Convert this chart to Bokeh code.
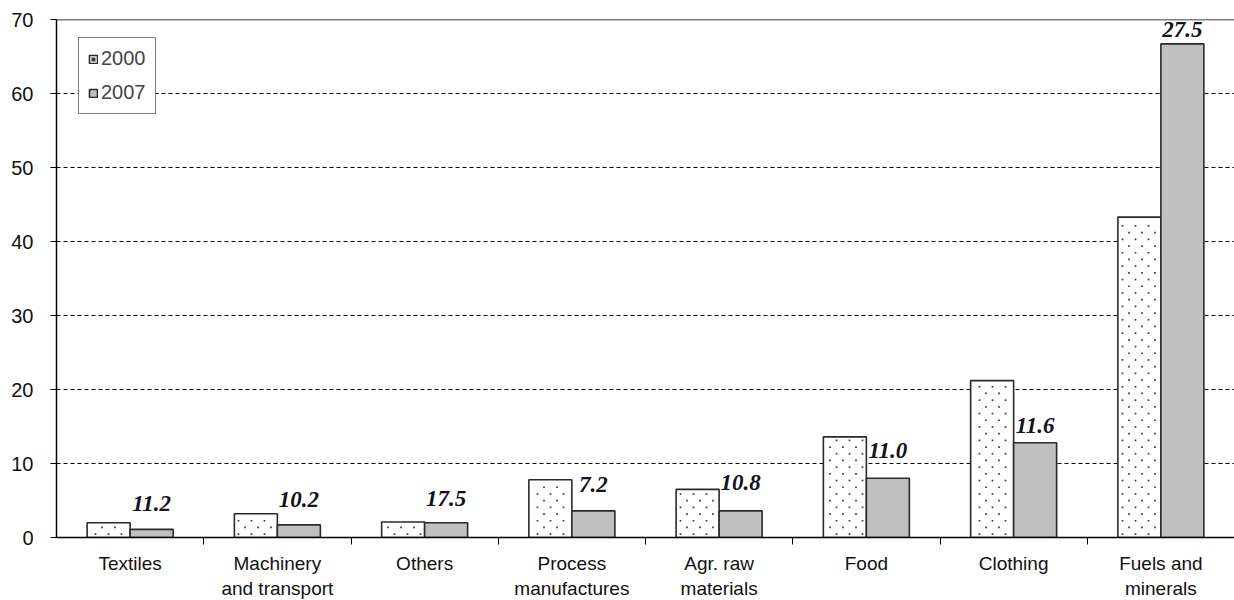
from bokeh.plotting import figure
from bokeh.models import (ColumnDataSource, FixedTicker, Range1d, Span,
                          Legend, LegendItem)
from bokeh.core.properties import value
from bokeh.embed import file_html
from bokeh.resources import INLINE

# Export categories and values
categories = ["Textiles", "Machinery\nand transport", "Others", "Process\nmanufactures",
              "Agr. raw\nmaterials", "Food", "Clothing", "Fuels and\nminerals"]
values_2000 = [2.0, 3.2, 2.1, 7.8, 6.5, 13.6, 21.2, 43.3]
values_2007 = [1.1, 1.7, 2.0, 3.6, 3.6, 8.0, 12.8, 66.7]
share_labels = ["11.2", "10.2", "17.5", "7.2", "10.8", "11.0", "11.6", "27.5"]
y_ticks = [0, 10, 20, 30, 40, 50, 60, 70]

# Pixel lift of each label above its 2007 bar
label_lift = [26, 25, 24, 26, 28, 28, 17, 14]

n = len(categories)
centers = [i + 0.5 for i in range(n)]
offset = 0.146
bar_w = 0.292

FRAME_W, FRAME_H = 1178, 518
x_per_px = n / FRAME_W
y_per_px = 70 / FRAME_H

src = ColumnDataSource(dict(
    x00=[c - offset for c in centers],
    x07=[c + offset for c in centers],
    v00=values_2000,
    v07=values_2007,
    lab=share_labels,
    lift=[-d for d in label_lift],
))

# Staggered dot fill inside the 2000 bars (13 px columns, rows every ~6.7 px)
dx, dy = 13 * x_per_px, 6.7 * y_per_px
mx, my = 2.5 * x_per_px, 2.5 * y_per_px
dot_x, dot_y = [], []
for xc, top in zip(src.data["x00"], values_2000):
    left, right = xc - bar_w / 2, xc + bar_w / 2
    j = 0
    while (j + 0.5) * dy < top - my:
        yy = (j + 0.5) * dy
        shift = 0.5 * dx if j % 2 else 0.0
        k = int(left / dx) - 1
        while k * dx + shift < right - mx:
            xx = k * dx + shift
            if xx > left + mx:
                dot_x.append(xx)
                dot_y.append(yy)
            k += 1
        j += 1

p = figure(frame_width=FRAME_W, frame_height=FRAME_H, output_backend="svg",
           toolbar_location=None,
           x_range=Range1d(0, n), y_range=Range1d(0, 70),
           min_border_left=56, min_border_right=0, min_border_top=19,
           min_border_bottom=10, outline_line_color=None,
           background_fill_color="white", border_fill_color="white")

r00 = p.vbar(x="x00", top="v00", width=bar_w, source=src, fill_color="white",
             line_color="#2a2a2a", line_width=1.6)
rdots = p.scatter(x=dot_x, y=dot_y, marker="square", size=1.7,
                  fill_color="#3a3a3a", line_color=None)
r07 = p.vbar(x="x07", top="v07", width=bar_w, source=src, fill_color="#c0c0c0",
             line_color="#2a2a2a", line_width=1.6)

p.text(x="x07", y="v07", text="lab", source=src, y_offset="lift",
       text_align="center", text_baseline="middle",
       text_font=value("Liberation Serif"), text_font_style="bold italic",
       text_font_size="23px", text_color="#111122")

# Axes
p.xaxis.ticker = FixedTicker(ticks=centers, minor_ticks=list(range(1, n)))
p.xaxis.major_label_overrides = {c: lab for c, lab in zip(centers, categories)}
p.xaxis.major_tick_line_color = None
p.xaxis.major_tick_out = 0
p.xaxis.minor_tick_out = 7
p.xaxis.minor_tick_in = 0
p.xaxis.minor_tick_line_color = "black"
p.xaxis.axis_line_color = "black"
p.xaxis.axis_line_width = 1.5
p.xaxis.major_label_standoff = 8
p.xaxis.major_label_text_font = "Liberation Sans"
p.xaxis.major_label_text_font_size = "19px"
p.xaxis.major_label_text_color = "#111111"

p.yaxis.ticker = FixedTicker(ticks=y_ticks, minor_ticks=[])
p.yaxis.major_tick_out = 6
p.yaxis.major_tick_in = 0
p.yaxis.major_tick_line_color = "black"
p.yaxis.axis_line_color = "black"
p.yaxis.axis_line_width = 1.5
p.yaxis.major_label_standoff = 17
p.yaxis.major_label_text_font = "Liberation Sans"
p.yaxis.major_label_text_font_size = "20px"
p.yaxis.major_label_text_color = "#111111"

# Top border line
p.add_layout(Span(location=70, dimension="width", line_color="black", line_width=1.5))

p.xgrid.visible = False
p.ygrid.ticker = FixedTicker(ticks=y_ticks[1:-1])
p.ygrid.grid_line_color = "black"
p.ygrid.grid_line_dash = "4 3"
p.ygrid.grid_line_width = 1

legend = Legend(items=[LegendItem(label="2000", renderers=[r00, rdots]),
                       LegendItem(label="2007", renderers=[r07])],
                location=(22, 423), orientation="vertical",
                border_line_color="black", border_line_width=1.2,
                background_fill_color="white", background_fill_alpha=1,
                glyph_width=10, glyph_height=10, label_text_font="Liberation Sans",
                label_text_font_size="20px", label_standoff=3, spacing=11,
                padding=9, margin=0, label_height=22)
p.add_layout(legend, "center")

open("out.html", "w").write(file_html(p, INLINE))
